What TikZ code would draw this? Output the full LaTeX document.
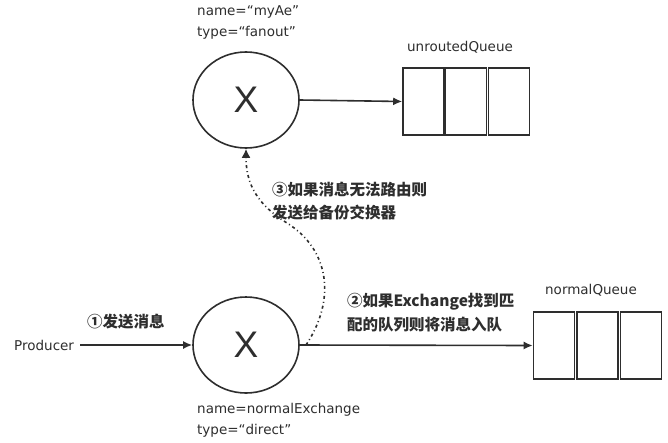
\documentclass[tikz,border=0pt]{standalone}
\usepackage{fontspec}
\setmainfont{DejaVu Sans}
\newfontfamily\cjk{Noto Sans CJK SC}
\newfontfamily\xfont{Liberation Sans}
\usetikzlibrary{arrows.meta,shapes.geometric}
\definecolor{ink}{HTML}{2E2E2E}
\begin{document}
\begin{tikzpicture}[x=1pt,y=-1pt,
  ex/.style={draw=ink,line width=1.6pt,ellipse,minimum width=106pt,minimum height=96pt,inner sep=0pt,
    font=\xfont\fontsize{37}{37}\selectfont,text=ink},
  qbox/.style={draw=ink,line width=1.6pt,minimum width=41pt,minimum height=67pt,inner sep=0pt},
  lbl/.style={text=ink,font=\fontsize{13.5}{15}\selectfont,inner sep=0pt},
  zh/.style={text=ink,font=\cjk\bfseries\fontsize{15.5}{18}\selectfont,inner sep=0pt,anchor=west},
  arr/.style={draw=ink,line width=1.6pt,-{Latex[length=9pt,width=8pt]}},
  dsh/.style={draw=ink,line width=1.6pt,dash pattern=on 3pt off 3pt on 1pt off 3pt,-{Latex[length=9pt,width=9pt]}}
]
\useasboundingbox[fill=white] (0,0) rectangle (668,442);

% exchanges
\node[ex] (t) at (246,100) {X};
\node[ex] (b) at (246,345) {X};

% unroutedQueue
\node[qbox] (u1) at (423.5,101.5) {};
\node[qbox] (u2) at (466,101.5) {};
\node[qbox] (u3) at (509,101.5) {};
\node[lbl] (ul) at (460,47) {unroutedQueue};

% normalQueue
\node[qbox] (n1) at (554,345.5) {};
\node[qbox] (n2) at (597.5,345.5) {};
\node[qbox] (n3) at (641,345.5) {};
\node[lbl] (nl) at (591,290) {normalQueue};

% producer
\node[lbl,anchor=west] (p) at (14,345) {Producer};

% labels
\node[lbl,anchor=west] (tn) at (197,12) {name=“myAe”};
\node[lbl,anchor=west] (tt) at (197,33) {type=“fanout”};
\node[lbl,anchor=west] (bn) at (197,410) {name=normalExchange};
\node[lbl,anchor=west] (bt) at (197,431) {type=“direct”};

\node[zh] (s1) at (87,322) {①发送消息};
\node[zh] (s2a) at (347,302) {②如果Exchange找到匹};
\node[zh] (s2b) at (347,325) {配的队列则将消息入队};
\node[zh] (s3a) at (272,190) {③如果消息无法路由则};
\node[zh] (s3b) at (272,213) {发送给备份交换器};

% connectors
\draw[arr] (p.east) ++(6,0) coordinate (ps) -- (b.west);
\draw[arr] (t.east) -- (u1.west);
\draw[arr] (b.east) -- (n1.west);
\coordinate (ds) at (306,345);
\draw[dsh] (ds) .. controls (336,300) and (330,250) .. (287,223)
  .. controls (258,205) and (246,185) .. (t.south);
\end{tikzpicture}
\end{document}
